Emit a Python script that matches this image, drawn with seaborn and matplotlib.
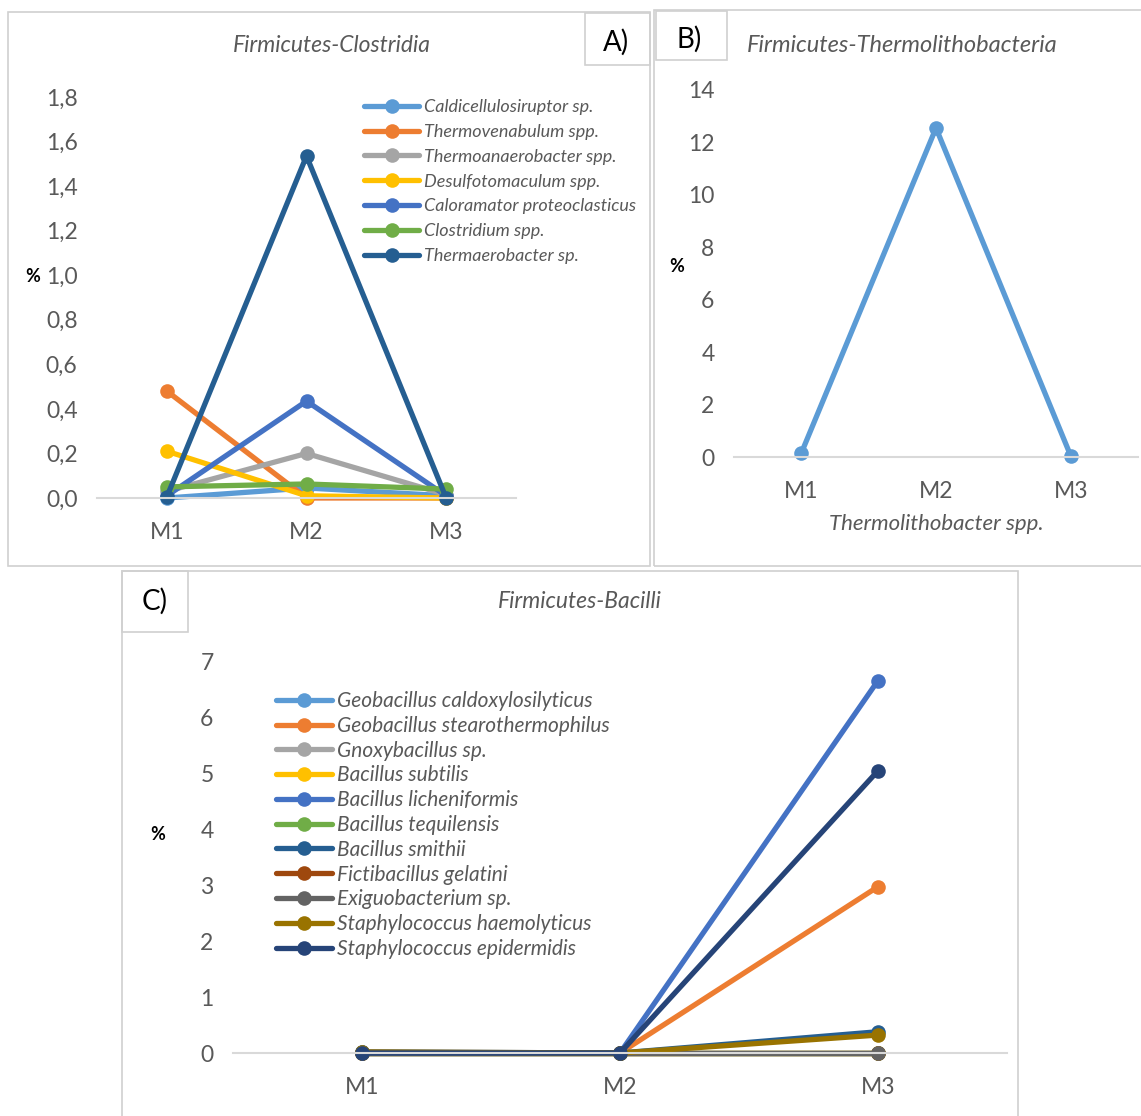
import matplotlib
matplotlib.use("Agg")
import matplotlib.pyplot as plt
import seaborn as sns
from matplotlib.patches import Rectangle
from matplotlib.ticker import FuncFormatter

# Dados
amostras = ["M1", "M2", "M3"]

# A) Firmicutes-Clostridia
clos_nomes = ["Caldicellulosiruptor sp.", "Thermovenabulum spp.", "Thermoanaerobacter spp.",
              "Desulfotomaculum spp.", "Caloramator proteoclasticus", "Clostridium spp.",
              "Thermaerobacter sp."]
caldicellulosiruptor = [0.0, 0.045, 0.01]
thermovenabulum = [0.48, 0.0, 0.0]
thermoanaerobacter = [0.03, 0.20, 0.015]
desulfotomaculum = [0.21, 0.01, 0.0]
caloramator = [0.01, 0.435, 0.01]
clostridium = [0.05, 0.063, 0.04]
thermaerobacter = [0.005, 1.535, 0.0]

# B) Firmicutes-Thermolithobacteria
thermolithobacter = [0.15, 12.55, 0.05]

# C) Firmicutes-Bacilli
bac_nomes = ["Geobacillus caldoxylosilyticus", "Geobacillus stearothermophilus", "Gnoxybacillus sp.",
             "Bacillus subtilis", "Bacillus licheniformis", "Bacillus tequilensis", "Bacillus smithii",
             "Fictibacillus gelatini", "Exiguobacterium sp.", "Staphylococcus haemolyticus",
             "Staphylococcus epidermidis"]
geo_caldoxylosilyticus = [0.0, 0.0, 0.0]
geo_stearothermophilus = [0.0, 0.0, 2.97]
gnoxybacillus = [0.0, 0.0, 0.0]
b_subtilis = [0.0, 0.0, 0.0]
b_licheniformis = [0.02, 0.0, 6.65]
b_tequilensis = [0.0, 0.0, 0.0]
b_smithii = [0.01, 0.0, 0.38]
fictibacillus = [0.0, 0.0, 0.0]
exiguobacterium = [0.0, 0.0, 0.0]
staph_haemolyticus = [0.02, 0.0, 0.32]
staph_epidermidis = [0.0, 0.0, 5.04]

clos_valores = [caldicellulosiruptor, thermovenabulum, thermoanaerobacter, desulfotomaculum,
                caloramator, clostridium, thermaerobacter]
bac_valores = [geo_caldoxylosilyticus, geo_stearothermophilus, gnoxybacillus, b_subtilis,
               b_licheniformis, b_tequilensis, b_smithii, fictibacillus, exiguobacterium,
               staph_haemolyticus, staph_epidermidis]

cores = ["#5B9BD5", "#ED7D31", "#A5A5A5", "#FFC000", "#4472C4", "#70AD47",
         "#255E91", "#9E480E", "#636363", "#997300", "#264478"]

sns.set_style("white")
plt.rcParams['font.family'] = ['Lato', 'DejaVu Sans']

W, H = 1141, 1116
fig = plt.figure(figsize=(W / 100, H / 100), dpi=100)
cinza = "#595959"


def px_axes(l, t, r, b):
    return fig.add_axes([l / W, (H - b) / H, (r - l) / W, (b - t) / H])


def fig_txt(x, y, s, **kw):
    fig.text(x / W, (H - y) / H, s, **kw)


def caixa(l, t, r, b):
    fig.patches.append(Rectangle((l / W, (H - b) / H), (r - l) / W, (b - t) / H,
                                 transform=fig.transFigure, fill=False,
                                 edgecolor="#D0D0D0", linewidth=1.2))


def estilo(ax, ymax, fmt):
    ax.set_xlim(-0.5, 2.5)
    ax.set_ylim(0, ymax)
    for s in ["top", "right", "left"]:
        ax.spines[s].set_visible(False)
    ax.spines["bottom"].set_color("#D9D9D9")
    ax.spines["bottom"].set_linewidth(1.5)
    ax.tick_params(axis="both", length=0, labelsize=16.5, labelcolor=cinza)
    ax.tick_params(axis="y", pad=14)
    ax.tick_params(axis="x", pad=17)
    ax.yaxis.set_major_formatter(FuncFormatter(fmt))
    ax.set_xlabel("")
    ax.set_ylabel("")
    ax.set_facecolor("none")
    for ln in ax.get_lines():
        ln.set_clip_on(False)


def linhas(ax, nomes, valores):
    for nome, vals, cor in zip(nomes, valores, cores):
        sns.lineplot(x=amostras, y=vals, ax=ax, color=cor, marker="o", label=nome,
                     linewidth=3.8, markersize=10.5, markeredgewidth=0, sort=False)


# caixas dos painéis
caixa(8, 12, 650, 566)
caixa(654, 10, 1145, 566)
caixa(122, 571, 1018, 1120)
caixa(585, 13, 650, 65)
caixa(656, 11, 727, 60)
caixa(122, 571, 188, 632)

# A)
axA = px_axes(97, 97, 516, 498)
linhas(axA, clos_nomes, clos_valores)
estilo(axA, 1.8, lambda v, p: f"{v:.1f}".replace(".", ","))
axA.set_yticks([0, 0.2, 0.4, 0.6, 0.8, 1.0, 1.2, 1.4, 1.6, 1.8])
axA.legend(loc="upper left", bbox_to_anchor=(364 / W, (H - 99) / H), bbox_transform=fig.transFigure,
           frameon=False, prop={"style": "italic", "size": 13}, labelcolor=cinza,
           handlelength=3.05, handletextpad=0.28, labelspacing=0.49, borderpad=0, borderaxespad=0)
fig_txt(332, 46, "Firmicutes-Clostridia", ha="center", va="center", fontsize=16.5,
        style="italic", color=cinza)
fig_txt(33, 276, "%", ha="center", va="center", fontsize=13, weight="bold", color="black")
fig_txt(616, 42, "A)", ha="center", va="center", fontsize=20, color="black")

# B)
axB = px_axes(734, 90, 1138, 457)
sns.lineplot(x=amostras, y=thermolithobacter, ax=axB, color=cores[0], marker="o",
             linewidth=3.8, markersize=10.5, markeredgewidth=0, sort=False)
estilo(axB, 14, lambda v, p: f"{v:.0f}")
axB.set_yticks(range(0, 15, 2))
fig_txt(902, 46, "Firmicutes-Thermolithobacteria", ha="center", va="center", fontsize=17,
        style="italic", color=cinza)
fig_txt(936, 524, "Thermolithobacter spp.", ha="center", va="center", fontsize=16,
        style="italic", color=cinza)
fig_txt(677, 267, "%", ha="center", va="center", fontsize=13, weight="bold", color="black")
fig_txt(689, 39, "B)", ha="center", va="center", fontsize=20, color="black")

# C)
axC = px_axes(233, 661, 1007, 1053)
linhas(axC, bac_nomes, bac_valores)
estilo(axC, 7, lambda v, p: f"{v:.0f}")
axC.set_yticks(range(0, 8))
axC.legend(loc="upper left", bbox_to_anchor=(276 / W, (H - 691) / H), bbox_transform=fig.transFigure,
           frameon=False, prop={"style": "italic", "size": 15}, labelcolor=cinza,
           handlelength=2.7, handletextpad=0.24, labelspacing=0.23, borderpad=0, borderaxespad=0)
fig_txt(580, 602, "Firmicutes-Bacilli", ha="center", va="center", fontsize=16.5,
        style="italic", color=cinza)
fig_txt(158, 834, "%", ha="center", va="center", fontsize=13, weight="bold", color="black")
fig_txt(155, 601, "C)", ha="center", va="center", fontsize=20, color="black")

fig.savefig("out.png", dpi=100, facecolor="white")
